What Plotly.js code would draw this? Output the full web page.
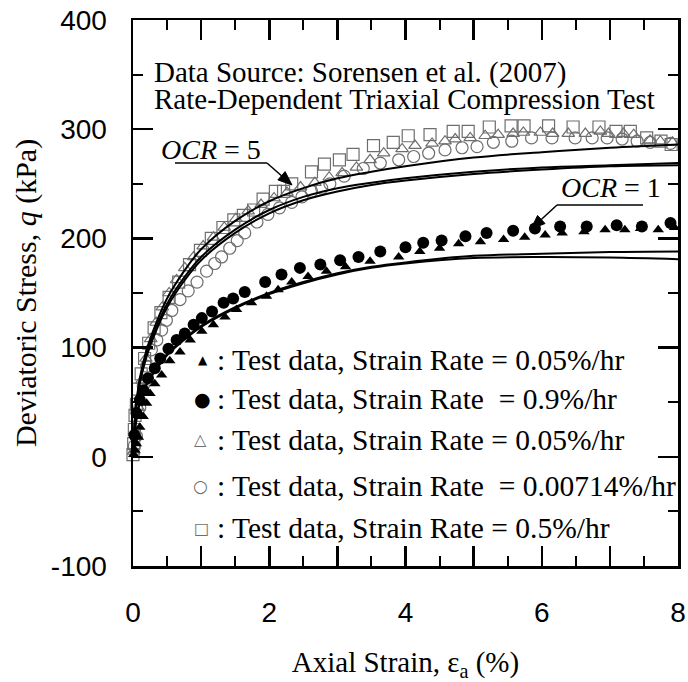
<!DOCTYPE html>
<html>
<head>
<meta charset="utf-8">
<script src="https://cdn.plot.ly/plotly-3.0.1.min.js"></script>
<style>html,body{margin:0;padding:0;background:#fff;}#chart{width:688px;height:682px;}</style>
</head>
<body>
<div id="chart"></div>
<script>
// ---- Test data: OCR = 1, strain rate 0.05 %/hr (filled triangles)
const triFilledX = [0.01,0.03,0.05,0.08,0.10,0.15,0.20,0.25,0.32,0.42,0.54,0.69,0.84,1.01,1.18,1.35,1.52,1.74,1.96,2.13,2.33,2.57,2.84,3.12,3.48,3.90,4.21,4.50,4.78,5.10,5.44,5.75,6.05,6.30,6.62,6.93,7.22,7.45,7.71,7.95];
const triFilledY = [2,6,12,18,27,37,49,58,67,75,88,96,107,115,121,128,135,141,147,153,160,165,170,174,179,183,188,191,195,197,199,201,203,205,206,208,208,209,208,210];
// ---- Test data: OCR = 1, strain rate 0.9 %/hr (filled circles)
const cirFilledX = [0.02,0.05,0.10,0.15,0.22,0.32,0.40,0.52,0.64,0.76,0.89,1.01,1.16,1.33,1.47,1.64,1.94,2.18,2.45,2.75,3.04,3.31,3.63,4.00,4.26,4.53,4.88,5.19,5.58,5.90,6.27,6.66,7.10,7.47,7.89];
const cirFilledY = [20,40,52,61,72,81,90,99,107,113,121,127,133,141,145,151,160,167,173,176,180,183,188,192,196,198,202,205,207,209,211,211,212,211,214];
// ---- Test data: OCR = 5, strain rate 0.05 %/hr (open triangles)
const triOpenX = [0.01,0.04,0.08,0.13,0.19,0.26,0.34,0.43,0.53,0.64,0.76,0.89,1.03,1.18,1.34,1.51,1.69,1.88,2.07,2.26,2.46,2.67,2.88,3.07,3.28,3.48,3.68,3.95,4.14,4.39,4.58,4.73,4.95,5.17,5.36,5.58,5.73,5.98,6.16,6.39,6.64,6.86,6.98,7.20,7.35,7.59,7.74,7.92];
const triOpenY = [5,20,45,70,90,108,123,137,150,162,173,183,193,201,210,218,225,231,237,242,247,251,256,260,265,272,278,282,285,287,289,291,292,294,295,296,297,297,296,296,296,298,296,296,295,290,289,288];
// ---- Test data: OCR = 5, strain rate 0.00714 %/hr (open circles)
const cirOpenX = [0.02,0.05,0.10,0.15,0.20,0.27,0.35,0.42,0.49,0.57,0.69,0.81,0.94,1.08,1.20,1.30,1.42,1.53,1.64,1.82,1.98,2.15,2.33,2.48,2.62,2.77,2.89,3.10,3.38,3.63,3.90,4.12,4.34,4.58,4.83,5.05,5.29,5.56,5.85,6.15,6.49,6.74,6.96,7.18,7.40,7.59,7.89];
const cirOpenY = [10,19,45,65,83,98,107,116,125,134,144,152,160,170,177,183,191,198,205,215,222,228,233,238,243,246,250,257,264,269,272,275,278,281,283,284,288,289,292,292,292,292,292,291,289,288,287];
// ---- Test data: OCR = 5, strain rate 0.5 %/hr (open squares)
const sqOpenX = [0.00,0.01,0.02,0.03,0.05,0.08,0.12,0.17,0.23,0.31,0.41,0.53,0.67,0.83,0.99,1.15,1.32,1.48,1.62,1.77,1.91,2.09,2.21,2.33,2.62,2.81,3.03,3.23,3.53,3.82,4.04,4.36,4.70,4.92,5.23,5.55,5.74,6.10,6.46,6.84,7.09,7.30,7.54,7.75,7.90];
const sqOpenY = [2,12,25,38,48,62,76,90,104,118,132,146,160,176,189,200,210,217,221,226,236,243,243,250,261,268,272,277,285,288,294,295,298,298,302,303,303,303,302,302,298,298,292,289,286];

// ---- Model curves
const modelX = [0,0.02,0.05,0.1,0.2,0.35,0.5,0.75,1,1.5,2,2.5,3,3.5,4,5,6,7,8];
const ocr5A = [0,28,50,72,98,124,145,170,190,216,234,246,255,261,266,274,279,283,286];
const ocr5B = [0,26,48,69,95,120,140,164,183,208,226,238,246,251,255,261,265,267,269];
const ocr5C = [0,25,46,67,92,117,137,161,180,205,223,235,243,249,253,259,263,266,267];
const ocr1D = [0,20,35,50,67,82,94,108,120,137,150,160,168,174,178,184,186,187.5,188];
const ocr1E = [0,19,34,49,66,81,93,107,119,136,149,159,167,173,177,182,183,182.5,181];

// ---- Ticks & texts
const xLabelVals = [0,2,4,6,8];
const xLabelText = ['0','2','4','6','8'];
const xHalfTicks = [0.5,1.5,2.5,3.5,4.5,5.5,6.5,7.5];
const yTickVals = [-100,0,100,200,300,400];
const yTickText = ['-100','0','100','200','300','400'];
const legendTexts = [
  ': Test data, Strain Rate = 0.05%/hr',
  ': Test data, Strain Rate  = 0.9%/hr',
  ': Test data, Strain Rate = 0.05%/hr',
  ': Test data, Strain Rate  = 0.00714%/hr',
  ': Test data, Strain Rate = 0.5%/hr'
];
const legendGlyphs = ['▲','●','△','○','□'];

const serif = 'Liberation Serif, Times New Roman, serif';
const sans = 'Liberation Sans, Arial, sans-serif';
const gray = '#6e6e6e';

function line(y){
  return {x: modelX, y: y, mode:'lines', line:{color:'#000', width:2, shape:'spline'}, showlegend:false, hoverinfo:'skip'};
}
function pts(x,y,symbol,size,color,lw){
  return {x:x, y:y, mode:'markers', cliponaxis:false, showlegend:false,
    marker:{symbol:symbol, size:size, color:color, line:{color:color, width:lw}}};
}

const data = [
  pts(sqOpenX, sqOpenY, 'square-open', 12, gray, 1.2),
  pts(cirOpenX, cirOpenY, 'circle-open', 12, gray, 1.2),
  pts(triOpenX, triOpenY, 'triangle-up-open', 11, gray, 1.2),
  line(ocr5A), line(ocr5B), line(ocr5C), line(ocr1D), line(ocr1E),
  pts(cirFilledX, cirFilledY, 'circle', 12, '#000', 0),
  pts(triFilledX, triFilledY, 'triangle-up', 10, '#000', 0),
  // invisible trace that activates the overlay axis carrying the half-unit ticks
  {x:[0], y:[0], xaxis:'x2', mode:'markers', marker:{opacity:0}, showlegend:false, hoverinfo:'skip'}
];

// helpers to place decorations by pixel (converted to paper)
const L=133, R=10, T=20, B=116, W=688, H=682;
const pw = W-L-R, ph = H-T-B;
const px = v => (v-L)/pw;
const py = v => (H-B-v)/ph;

const ann = [];
ann.push({xref:'paper', yref:'paper', x:px(152), y:py(72), xanchor:'left', yanchor:'middle', showarrow:false,
  text:'Data Source: Sorensen et al. (2007)', font:{family:serif, size:29, color:'#000'}});
ann.push({xref:'paper', yref:'paper', x:px(152), y:py(99), xanchor:'left', yanchor:'middle', showarrow:false,
  text:'Rate-Dependent Triaxial Compression Test', font:{family:serif, size:29, color:'#000'}});
ann.push({xref:'paper', yref:'paper', x:px(211), y:py(149), xanchor:'center', yanchor:'middle', showarrow:false,
  text:'<i>OCR</i> = 5', font:{family:serif, size:28, color:'#000'}});
ann.push({xref:'paper', yref:'paper', x:px(611), y:py(187), xanchor:'center', yanchor:'middle', showarrow:false,
  text:'<i>OCR</i> = 1', font:{family:serif, size:28, color:'#000'}});

const rowsY = [360, 399, 440, 486, 528];
const glyphX = [203, 202, 200, 200, 201];
const textX = 215;
const glyphSize = [12, 19, 16, 17, 16];
const glyphColor = ['#000','#000',gray,gray,gray];
for(let i=0;i<5;i++){
  ann.push({xref:'paper', yref:'paper', x:px(glyphX[i]), y:py(rowsY[i]), xanchor:'center', yanchor:'middle', showarrow:false,
    text:legendGlyphs[i], font:{family:'DejaVu Sans', size:glyphSize[i], color:glyphColor[i]}});
  ann.push({xref:'paper', yref:'paper', x:px(textX), y:py(rowsY[i]), xanchor:'left', yanchor:'middle', showarrow:false,
    text:legendTexts[i], font:{family:serif, size:29.5, color:'#000'}});
}

// leader lines with arrowheads (pixel anchors)
function arrowShapes(x0,y0,tx,ty){
  const dx = tx-x0, dy = ty-y0, len = Math.hypot(dx,dy);
  const ux = dx/len, uy = dy/len, nx = -uy, ny = ux;
  const hl = 14, hw = 5.5;
  const bx = tx-ux*hl, by = ty-uy*hl;
  const p1 = [bx+nx*hw, by+ny*hw], p2 = [bx-nx*hw, by-ny*hw];
  return [
    {type:'line', xref:'paper', yref:'paper', x0:px(x0), y0:py(y0), x1:px(bx), y1:py(by), line:{color:'#000', width:1.5}},
    {type:'path', xref:'paper', yref:'paper',
     path:`M ${px(tx)} ${py(ty)} L ${px(p1[0])} ${py(p1[1])} L ${px(p2[0])} ${py(p2[1])} Z`,
     fillcolor:'#000', line:{color:'#000', width:1}}
  ];
}
const shapes = [
  {type:'line', xref:'paper', yref:'paper', x0:px(175), x1:px(267), y0:py(163), y1:py(163), line:{color:'#000', width:1.5}},
  {type:'line', xref:'paper', yref:'paper', x0:px(557), x1:px(643), y0:py(205), y1:py(205), line:{color:'#000', width:1.5}}
].concat(arrowShapes(267,163,292,185), arrowShapes(557,205,531,229));

const axisCommon = {
  showline:true, linecolor:'#000', linewidth:2.5, mirror:'ticks', ticks:'inside', ticklen:20, tickwidth:2.5, tickcolor:'#000',
  showgrid:false, zeroline:false, tickmode:'array',
  tickfont:{family:sans, size:28, color:'#000'}
};

const layout = {
  width:W, height:H, margin:{l:L, r:R, t:T, b:B}, paper_bgcolor:'#fff', plot_bgcolor:'#fff', showlegend:false,
  xaxis: Object.assign({}, axisCommon, {range:[0,8], tickvals:xLabelVals, ticktext:xLabelText, ticklabelstandoff:20,
    minor:{ticks:'inside', ticklen:20, tickwidth:2.5, tickcolor:'#000', dtick:1, tick0:0, showgrid:false},
    title:{text:'Axial Strain, ε<sub>a</sub> (%)', font:{family:serif, size:29, color:'#000'}, standoff:28}}),
  xaxis2: {overlaying:'x', matches:'x', range:[0,8], side:'bottom', showline:false, mirror:'ticks', ticks:'inside',
    ticklen:10, tickwidth:2, tickcolor:'#000', tickmode:'array', tickvals:xHalfTicks, showticklabels:false,
    showgrid:false, zeroline:false},
  yaxis: Object.assign({}, axisCommon, {range:[-100,400], tickvals:yTickVals, ticktext:yTickText, ticklabelstandoff:18,
    minor:{ticks:'inside', ticklen:10, tickwidth:2, tickcolor:'#000', dtick:50, tick0:0, showgrid:false},
    title:{text:'Deviatoric Stress, <i>q</i> (kPa)', font:{family:serif, size:30, color:'#000'}, standoff:6}}),
  annotations: ann, shapes: shapes
};

Plotly.newPlot('chart', data, layout, {displayModeBar:false, staticPlot:true});
</script>
</body>
</html>
